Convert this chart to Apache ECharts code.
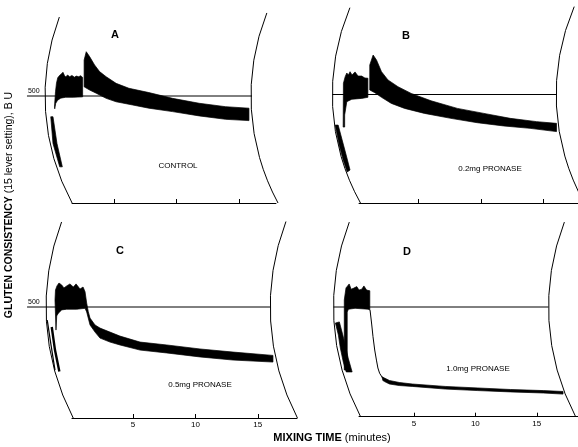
<!DOCTYPE html>
<html><head><meta charset="utf-8">
<script src="https://cdn.jsdelivr.net/npm/echarts@6/dist/echarts.min.js"></script>
<style>html,body{margin:0;padding:0;background:#fff}#c{width:578px;height:447px}</style>
</head><body><div id="c"></div>
<script>
// ---------------- data (minutes, Brabender units) ----------------
const TICKS = [5, 10, 15];
const REF_LEVEL = 500;
const PANEL_LETTERS = ['A', 'B', 'C', 'D'];
const TREATMENTS = ['CONTROL', '0.2mg PRONASE', '0.5mg PRONASE', '1.0mg PRONASE'];
const X_TITLE = ['MIXING TIME', ' (minutes)'];
const Y_TITLE = ['GLUTEN CONSISTENCY', ' (15 lever setting), B U'];

// Panel A – control
const A_dipLeft  = [[-0.10,403],[0.08,278],[0.62,169]];
const A_dipRight = [[0.08,403],[0.40,278],[0.83,169]];
const A_p1Up  = [[0.20,450],[0.28,520],[0.36,560],[0.46,585],[0.62,597],[0.75,603],[0.88,611],[1.00,596],[1.10,589],[1.25,598],[1.42,590],[1.60,596],[1.80,588],[1.95,593],[2.15,590],[2.30,595],[2.46,587]];
const A_p1Low = [[0.22,440],[0.30,466],[0.45,480],[0.70,490],[1.10,494],[1.70,494],[2.46,496]];
const A_p2Up  = [[2.58,668],[2.75,707],[3.02,684],[3.42,645],[3.82,614],[4.35,590],[5.15,559],[6.18,536],[7.78,516],[9.68,489],[11.82,466],[13.95,450],[15.82,443]];
const A_p2Low = [[2.58,543],[3.02,528],[3.55,513],[4.35,489],[5.15,473],[6.48,458],[7.78,443],[9.68,427],[11.82,407],[13.95,391],[15.82,385]];

// Panel B – 0.2 mg pronase
const B_dipLeft  = [[-1.67,359],[-1.35,267],[-1.03,198],[-0.71,143]];
const B_dipRight = [[-1.43,359],[-1.11,290],[-0.79,221],[-0.48,152]];
const B_p1Up  = [[-1.03,350],[-1.01,552],[-0.87,582],[-0.74,599],[-0.61,590],[-0.48,605],[-0.32,590],[-0.08,604],[0.16,585],[0.45,585],[0.71,576],[0.95,575]];
const B_p1Low = [[-0.91,350],[-0.91,406],[-0.74,467],[-0.34,478],[0.45,482],[0.95,487]];
const B_p2Up  = [[1.10,636],[1.37,682],[1.64,659],[2.04,605],[2.56,567],[3.36,536],[4.42,505],[6.01,471],[8.12,436],[10.24,413],[12.36,390],[14.47,375],[16.06,367]];
const B_p2Low = [[1.10,521],[1.51,508],[2.04,487],[2.83,459],[3.89,436],[5.48,413],[7.60,390],[9.71,370],[11.83,355],[13.94,344],[16.06,329]];

// Panel C – 0.5 mg pronase
const C_dip1 = [[-1.88,441],[-1.58,329],[-1.26,216]];
const C_dip2 = [[-1.52,410],[-1.26,306],[-0.91,209]];
const C_up  = [[-1.26,532],[-1.22,577],[-1.10,595],[-0.94,608],[-0.72,599],[-0.54,586],[-0.32,595],[-0.06,604],[0.21,590],[0.43,604],[0.75,581],[0.99,590],[1.15,569],[1.28,518],[1.41,479],[1.55,450],[1.95,419],[2.35,405],[3.15,387],[3.95,369],[5.56,342],[7.70,329],[10.37,311],[13.02,297],[16.22,282]];
const C_low = [[-1.18,396],[-1.12,460],[-0.99,472],[-0.72,487],[-0.32,490],[0.48,490],[1.15,494],[1.28,478],[1.55,419],[1.95,387],[2.35,360],[3.15,342],[3.95,329],[5.56,306],[7.70,293],[10.37,275],[13.02,261],[16.22,252]];

// Panel D – 1.0 mg pronase
const D_dipLeft  = [[-1.40,427],[-1.16,372],[-1.00,313],[-0.76,249],[-0.52,204]];
const D_dipRight = [[-1.08,432],[-0.84,381],[-0.60,327],[-0.36,267],[-0.04,204]];
const D_p1Up  = [[-0.68,213],[-0.68,532],[-0.54,587],[-0.28,605],[-0.12,581],[0.06,585],[0.34,593],[0.52,577],[0.74,581],[0.92,596],[1.14,577],[1.40,574]];
const D_p1Low = [[-0.44,213],[-0.44,477],[-0.34,490],[0.20,494],[1.26,490],[1.40,486]];
const D_drop  = [[1.42,486],[1.56,418],[1.66,365],[1.80,304],[1.94,258],[2.06,222],[2.20,198],[2.46,175]];
const D_tailUp  = [[2.40,182],[2.60,176],[3.00,165],[3.80,156],[4.86,149],[7.54,138],[10.20,131],[12.86,124],[15.54,119],[17.14,115]];
const D_tailLow = [[2.46,165],[2.60,160],[3.00,149],[3.80,142],[4.86,138],[7.54,126],[10.20,119],[12.86,113],[15.54,108],[17.14,103]];

// ---------------- layout (pixels / axis units) ----------------
const FONT = 'Liberation Sans';
const Y_MAX = 900;
const LAYOUT = [
  {x0:52,   k:12.45, base:203,   y500:96,   t0:1.61, t1:17.99, ref:[-2.01,16.06], refLabel:true,  R:18.07, arcs:[{t:-0.56,top:869},{t:15.98,top:888}], letter:[115,35],  treat:[178,166], tickLabels:false},
  {x0:356,  k:12.6,  base:203,   y500:94.5, t0:0.24, t1:17.78, ref:[-1.90,16.03], refLabel:false, R:17.86, arcs:[{t:-1.90,top:900},{t:16.03,top:905}], letter:[406,36],  treat:[490,169], tickLabels:false},
  {x0:70.7, k:12.47, base:418,   y500:307,  t0:0.10, t1:18.15, ref:[-3.50,16.00], refLabel:true,  R:19.25, arcs:[{t:-1.98,top:883},{t:16.00,top:885}], letter:[120,251], treat:[200,385], tickLabels:true},
  {x0:352.5,k:12.5,  base:416.7, y500:307,  t0:0.52, t1:18.36, ref:[-1.56,15.96], refLabel:false, R:19.2,  arcs:[{t:-1.56,top:887},{t:15.96,top:887}], letter:[407,252], treat:[478,369], tickLabels:true}
];

function polygonSeries(gi, up, low) {
  const pts = up.concat(low.slice().reverse());
  return {
    type: 'custom', coordinateSystem: 'cartesian2d', xAxisIndex: gi, yAxisIndex: gi,
    data: pts, encode: {x: 0, y: 1}, clip: false, silent: true,
    renderItem: function (params, api) {
      if (params.dataIndex !== 0) return null;
      return {type: 'polygon', shape: {points: pts.map(p => api.coord(p))},
              style: {fill: '#000', stroke: '#000', lineWidth: 0.7}};
    }
  };
}
function lineSeries(gi, pts, w) {
  return {
    type: 'custom', coordinateSystem: 'cartesian2d', xAxisIndex: gi, yAxisIndex: gi,
    data: pts, encode: {x: 0, y: 1}, clip: false, silent: true,
    renderItem: function (params, api) {
      if (params.dataIndex !== 0) return null;
      return {type: 'polyline', shape: {points: pts.map(p => api.coord(p))},
              style: {fill: 'none', stroke: '#000', lineWidth: w}};
    }
  };
}

const grids = [], xAxes = [], yAxes = [], series = [];
LAYOUT.forEach((L, i) => {
  const h = (L.base - L.y500) * Y_MAX / REF_LEVEL;
  grids.push({left: L.x0 + L.k * L.t0, top: L.base - h, width: L.k * (L.t1 - L.t0), height: h});
  xAxes.push({type: 'value', gridIndex: i, min: L.t0, max: L.t1,
    axisLine: {show: true, onZero: false, lineStyle: {color: '#000', width: 1}},
    axisTick: {show: true, inside: true, length: 4, customValues: TICKS, lineStyle: {color: '#000', width: 1}},
    axisLabel: {show: L.tickLabels, customValues: TICKS, fontSize: 8, margin: 3, color: '#000', fontFamily: FONT},
    splitLine: {show: false}});
  yAxes.push({type: 'value', gridIndex: i, min: 0, max: Y_MAX, show: false});
  series.push(lineSeries(i, [[L.ref[0], REF_LEVEL], [L.ref[1], REF_LEVEL]], 1));
});

series.push(polygonSeries(0, A_dipLeft, A_dipRight));
series.push(polygonSeries(0, A_p1Up, A_p1Low));
series.push(polygonSeries(0, A_p2Up, A_p2Low));
series.push(polygonSeries(1, B_dipLeft, B_dipRight));
series.push(polygonSeries(1, B_p1Up, B_p1Low));
series.push(polygonSeries(1, B_p2Up, B_p2Low));
series.push(lineSeries(2, C_dip1, 1.2));
series.push(lineSeries(2, C_dip2, 2.4));
series.push(polygonSeries(2, C_up, C_low));
series.push(polygonSeries(3, D_dipLeft, D_dipRight));
series.push(polygonSeries(3, D_p1Up, D_p1Low));
series.push(lineSeries(3, D_drop, 1));
series.push(polygonSeries(3, D_tailUp, D_tailLow));

const chart = echarts.init(document.getElementById('c'), null, {renderer: 'canvas'});
chart.setOption({animation: false, backgroundColor: '#fff', grid: grids, xAxis: xAxes, yAxis: yAxes, series: series});

// decorations: chart-paper arcs and texts
const g = [];
LAYOUT.forEach((L, i) => {
  const pt = v => chart.convertToPixel({gridIndex: i}, v);
  L.arcs.forEach(a => {
    const p = pt([a.t, REF_LEVEL]);
    const pc = pt([a.t + L.R, REF_LEVEL]);
    const r = pc[0] - p[0];
    const cy = p[1];
    const yb = pt([a.t, 0])[1], yt = pt([a.t, a.top])[1];
    const sb = Math.max(-1, Math.min(1, (yb - cy) / r));
    const st = Math.max(-1, Math.min(1, (yt - cy) / r));
    g.push({type: 'arc', silent: true,
      shape: {cx: pc[0], cy: cy, r: r, startAngle: Math.PI - Math.asin(sb), endAngle: Math.PI - Math.asin(st), clockwise: true},
      style: {stroke: '#000', fill: 'none', lineWidth: 1}});
  });
  if (L.refLabel) {
    const p = pt([L.ref[0], REF_LEVEL]);
    g.push({type: 'text', x: p[0] + 1, y: p[1] - 1, silent: true,
      style: {text: String(REF_LEVEL), fontSize: 7, fontFamily: FONT, fill: '#000', align: 'left', verticalAlign: 'bottom'}});
  }
  g.push({type: 'text', x: L.letter[0], y: L.letter[1], silent: true,
    style: {text: PANEL_LETTERS[i], fontSize: 11, fontWeight: 'bold', fontFamily: FONT, fill: '#000', align: 'center', verticalAlign: 'middle'}});
  g.push({type: 'text', x: L.treat[0], y: L.treat[1], silent: true,
    style: {text: TREATMENTS[i], fontSize: 8, fontFamily: FONT, fill: '#000', align: 'center', verticalAlign: 'middle'}});
});
g.push({type: 'text', x: 332, y: 438, silent: true,
  style: {text: '{b|' + X_TITLE[0] + '}' + X_TITLE[1], fontSize: 11, fontFamily: FONT, fill: '#000', align: 'center', verticalAlign: 'middle',
          rich: {b: {fontSize: 11, fontWeight: 'bold', fontFamily: FONT, fill: '#000'}}}});
g.push({type: 'text', x: 9, y: 205, rotation: Math.PI / 2, silent: true,
  style: {text: '{b|' + Y_TITLE[0] + '}' + Y_TITLE[1], fontSize: 10.5, fontFamily: FONT, fill: '#000', align: 'center', verticalAlign: 'middle',
          rich: {b: {fontSize: 10.5, fontWeight: 'bold', fontFamily: FONT, fill: '#000'}}}});
chart.setOption({graphic: g});
</script>
</body></html>
